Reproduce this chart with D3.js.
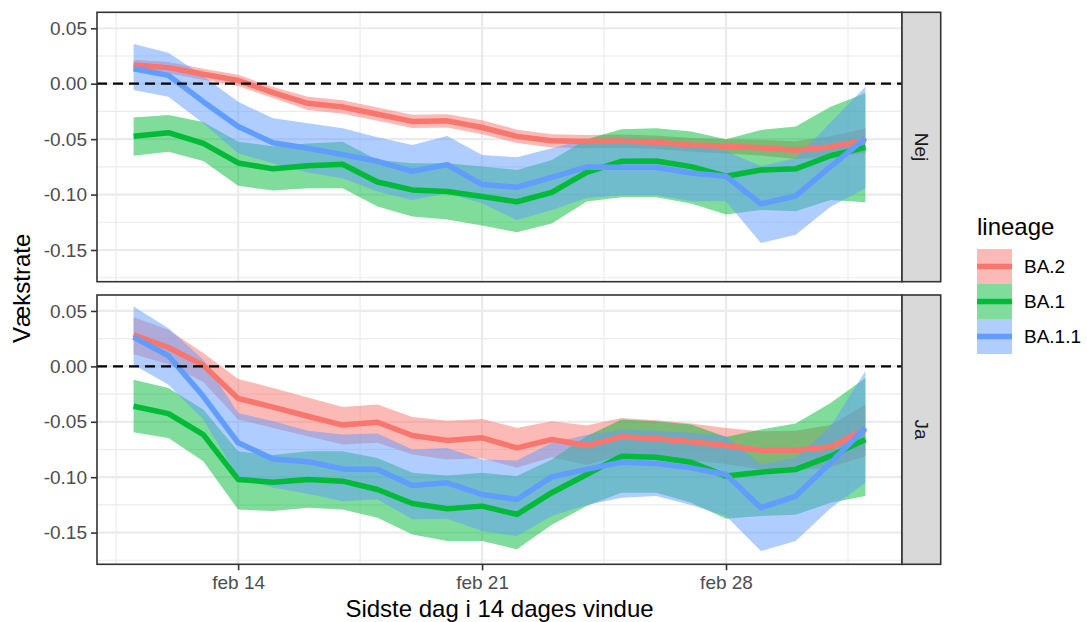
<!DOCTYPE html>
<html><head><meta charset="utf-8">
<script src="https://cdn.jsdelivr.net/npm/d3@7"></script>
<style>body{margin:0;background:#fff;} svg{display:block;font-family:"Liberation Sans",Arial,sans-serif;}</style>
</head><body><svg id="chart" width="1087" height="622"></svg>
<script>
// ---------- data ----------
const dates = ["2022-02-11","2022-02-12","2022-02-13","2022-02-14","2022-02-15","2022-02-16","2022-02-17","2022-02-18","2022-02-19","2022-02-20","2022-02-21","2022-02-22","2022-02-23","2022-02-24","2022-02-25","2022-02-26","2022-02-27","2022-02-28","2022-03-01","2022-03-02","2022-03-03","2022-03-04"];
const lineages = ["BA.2","BA.1","BA.1.1"];
const facets = ["Nej","Ja"];
const colors = ["#F8766D","#00BA38","#619CFF"];
const yTicks = [-0.15,-0.10,-0.05,0.00,0.05];
const yMinor = [-0.175,-0.125,-0.075,-0.025,0.025];
const xTickDates = ["2022-02-14","2022-02-21","2022-02-28"];
const xTickLabels = ["feb 14","feb 21","feb 28"];
const xMinorDates = ["2022-02-10T12:00","2022-02-17T12:00","2022-02-24T12:00","2022-03-03T12:00"];

// Nej panel
const nejBA2 = [0.0168,0.0145,0.0085,0.0030,-0.0080,-0.0177,-0.0210,-0.0275,-0.0340,-0.0335,-0.0395,-0.0475,-0.0515,-0.0522,-0.0518,-0.0528,-0.0552,-0.0565,-0.0578,-0.0600,-0.0570,-0.0510];
const nejBA2Hi = [0.0215,0.0195,0.0135,0.0080,-0.0030,-0.0117,-0.0150,-0.0215,-0.0280,-0.0275,-0.0330,-0.0415,-0.0455,-0.0462,-0.0458,-0.0468,-0.0490,-0.0500,-0.0508,-0.0520,-0.0475,-0.0405];
const nejBA2Lo = [0.0120,0.0095,0.0035,-0.0020,-0.0130,-0.0237,-0.0270,-0.0335,-0.0400,-0.0395,-0.0455,-0.0535,-0.0575,-0.0582,-0.0578,-0.0588,-0.0614,-0.0630,-0.0648,-0.0680,-0.0665,-0.0625];
const nejBA1 = [-0.0474,-0.0442,-0.0538,-0.0715,-0.0768,-0.0740,-0.0727,-0.0887,-0.0958,-0.0973,-0.1018,-0.1065,-0.0980,-0.0800,-0.0700,-0.0697,-0.0748,-0.0835,-0.0778,-0.0768,-0.0650,-0.0575];
const nejBA1Hi = [-0.0304,-0.0282,-0.0346,-0.0523,-0.0565,-0.0540,-0.0523,-0.0688,-0.0718,-0.0718,-0.0748,-0.0778,-0.0688,-0.0500,-0.0412,-0.0402,-0.0432,-0.0502,-0.0417,-0.0387,-0.0207,-0.0087];
const nejBA1Lo = [-0.0649,-0.0613,-0.0697,-0.0920,-0.0964,-0.0943,-0.0943,-0.1108,-0.1198,-0.1225,-0.1280,-0.1340,-0.1260,-0.1063,-0.1024,-0.1024,-0.1080,-0.1180,-0.1140,-0.1150,-0.1050,-0.1070];
const nejBA11 = [0.0135,0.0075,-0.0162,-0.0387,-0.0532,-0.0583,-0.0640,-0.0700,-0.0790,-0.0730,-0.0910,-0.0934,-0.0845,-0.0752,-0.0754,-0.0754,-0.0805,-0.0835,-0.1084,-0.1012,-0.0748,-0.0490];
const nejBA11Hi = [0.0357,0.0279,0.0070,-0.0162,-0.0312,-0.0357,-0.0402,-0.0483,-0.0553,-0.0471,-0.0643,-0.0663,-0.0583,-0.0500,-0.0490,-0.0505,-0.0540,-0.0610,-0.0742,-0.0673,-0.0350,-0.0027];
const nejBA11Lo = [-0.0057,-0.0117,-0.0357,-0.0628,-0.0718,-0.0800,-0.0853,-0.0973,-0.1048,-0.0988,-0.1078,-0.1230,-0.1140,-0.1030,-0.1003,-0.1003,-0.1060,-0.1060,-0.1438,-0.1363,-0.1110,-0.0943];

// Ja panel
const jaBA2 = [0.0285,0.0170,0.0010,-0.0290,-0.0368,-0.0450,-0.0530,-0.0504,-0.0624,-0.0668,-0.0645,-0.0735,-0.0660,-0.0714,-0.0636,-0.0654,-0.0680,-0.0714,-0.0757,-0.0757,-0.0727,-0.0570];
const jaBA2Hi = [0.0444,0.0330,0.0120,-0.0114,-0.0195,-0.0280,-0.0366,-0.0345,-0.0456,-0.0490,-0.0474,-0.0555,-0.0495,-0.0534,-0.0465,-0.0486,-0.0516,-0.0555,-0.0585,-0.0580,-0.0530,-0.0345];
const jaBA2Lo = [0.0110,0.0020,-0.0140,-0.0480,-0.0555,-0.0630,-0.0706,-0.0690,-0.0796,-0.0840,-0.0830,-0.0915,-0.0820,-0.0890,-0.0800,-0.0820,-0.0850,-0.0880,-0.0930,-0.0940,-0.0910,-0.0810];
const jaBA1 = [-0.0360,-0.0426,-0.0616,-0.1020,-0.1045,-0.1021,-0.1036,-0.1111,-0.1237,-0.1285,-0.1261,-0.1336,-0.1140,-0.0976,-0.0810,-0.0820,-0.0866,-0.0990,-0.0955,-0.0930,-0.0810,-0.0660];
const jaBA1Hi = [-0.0120,-0.0195,-0.0390,-0.0766,-0.0800,-0.0766,-0.0766,-0.0826,-0.0961,-0.0985,-0.0961,-0.0990,-0.0840,-0.0630,-0.0480,-0.0495,-0.0525,-0.0637,-0.0570,-0.0516,-0.0330,-0.0105];
const jaBA1Lo = [-0.0595,-0.0646,-0.0856,-0.1291,-0.1306,-0.1276,-0.1291,-0.1366,-0.1516,-0.1576,-0.1576,-0.1650,-0.1430,-0.1260,-0.1140,-0.1140,-0.1230,-0.1375,-0.1350,-0.1340,-0.1230,-0.1170];
const jaBA11 = [0.0264,0.0096,-0.0270,-0.0690,-0.0835,-0.0860,-0.0925,-0.0931,-0.1075,-0.1051,-0.1156,-0.1201,-0.0997,-0.0930,-0.0865,-0.0877,-0.0916,-0.0976,-0.1276,-0.1170,-0.0870,-0.0555];
const jaBA11Hi = [0.0540,0.0345,0.0060,-0.0420,-0.0495,-0.0580,-0.0615,-0.0606,-0.0751,-0.0736,-0.0841,-0.0850,-0.0690,-0.0620,-0.0570,-0.0580,-0.0600,-0.0630,-0.0886,-0.0825,-0.0540,-0.0045];
const jaBA11Lo = [0.0015,-0.0165,-0.0480,-0.1000,-0.1096,-0.1150,-0.1216,-0.1200,-0.1380,-0.1375,-0.1486,-0.1530,-0.1350,-0.1250,-0.1186,-0.1170,-0.1250,-0.1350,-0.1666,-0.1576,-0.1280,-0.1050];

// ---------- assemble ----------
const parse = d3.timeParse("%Y-%m-%d");
const parseT = d3.timeParse("%Y-%m-%dT%H:%M");
const dateObjs = dates.map(parse);
const panelData = {
  "Nej": [[nejBA2,nejBA2Lo,nejBA2Hi],[nejBA1,nejBA1Lo,nejBA1Hi],[nejBA11,nejBA11Lo,nejBA11Hi]],
  "Ja":  [[jaBA2,jaBA2Lo,jaBA2Hi],[jaBA1,jaBA1Lo,jaBA1Hi],[jaBA11,jaBA11Lo,jaBA11Hi]]
};

// ---------- layout ----------
const svg = d3.select("#chart");
const W = 1087, H = 622;
const pL = 97, pR = 902;
const panels = [{name:"Nej", top:12.3, bottom:281.7},{name:"Ja", top:295, bottom:564.3}];
const stripW = 38.7;
const tickFont = 19, titleFont = 24;

const day = 864e5;
const x = d3.scaleTime()
  .domain([new Date(dateObjs[0].getTime() - 1.05*day), new Date(dateObjs[dateObjs.length-1].getTime() + 1.05*day)])
  .range([pL, pR]);
const yDomain = [-0.1786, 0.0644];

const rgba = (hex, a) => { const c = d3.color(hex); c.opacity = a; return c.toString(); };

panels.forEach((p, pi) => {
  const y = d3.scaleLinear().domain(yDomain).range([p.bottom, p.top]);
  const g = svg.append("g");
  g.append("rect").attr("x", pL).attr("y", p.top).attr("width", pR-pL).attr("height", p.bottom-p.top).attr("fill", "#fff");
  // minor grid
  yMinor.forEach(v => g.append("line").attr("x1", pL).attr("x2", pR).attr("y1", y(v)).attr("y2", y(v)).attr("stroke", "#EBEBEB").attr("stroke-width", 1.1));
  xMinorDates.map(parseT).forEach(d => g.append("line").attr("x1", x(d)).attr("x2", x(d)).attr("y1", p.top).attr("y2", p.bottom).attr("stroke", "#EBEBEB").attr("stroke-width", 1.1));
  // major grid
  yTicks.forEach(v => g.append("line").attr("x1", pL).attr("x2", pR).attr("y1", y(v)).attr("y2", y(v)).attr("stroke", "#EBEBEB").attr("stroke-width", 2.2));
  xTickDates.map(parse).forEach(d => g.append("line").attr("x1", x(d)).attr("x2", x(d)).attr("y1", p.top).attr("y2", p.bottom).attr("stroke", "#EBEBEB").attr("stroke-width", 2.2));

  const series = panelData[p.name];
  const area = (lo, hi) => d3.area().x((d,i) => x(dateObjs[i])).y0((d,i) => y(lo[i])).y1((d,i) => y(hi[i]));
  const line = d3.line().x((d,i) => x(dateObjs[i])).y(d => y(d));
  // ribbons
  series.forEach((s, si) => {
    g.append("path").attr("d", area(s[1], s[2])(s[0])).attr("fill", rgba(colors[si], 0.5)).attr("stroke", "none");
  });
  // lines
  series.forEach((s, si) => {
    g.append("path").attr("d", line(s[0])).attr("fill", "none").attr("stroke", colors[si]).attr("stroke-width", 5.5).attr("stroke-linejoin", "round");
  });
  // dashed zero line
  g.append("line").attr("x1", pL).attr("x2", pR).attr("y1", y(0)).attr("y2", y(0)).attr("stroke", "#000").attr("stroke-width", 2.2).attr("stroke-dasharray", "10,6");
  // border
  g.append("rect").attr("x", pL).attr("y", p.top).attr("width", pR-pL).attr("height", p.bottom-p.top).attr("fill", "none").attr("stroke", "#333333").attr("stroke-width", 1.6);
  // strip
  g.append("rect").attr("x", pR).attr("y", p.top).attr("width", stripW).attr("height", p.bottom-p.top).attr("fill", "#D9D9D9").attr("stroke", "#333333").attr("stroke-width", 1.6);
  g.append("text").attr("transform", `translate(${pR + stripW/2},${(p.top+p.bottom)/2}) rotate(90)`)
    .attr("text-anchor", "middle").attr("dominant-baseline", "central").attr("font-size", tickFont).attr("fill", "#1A1A1A").text(p.name);
  // y axis
  const yAxis = d3.axisLeft(y).tickValues(yTicks).tickFormat(d3.format(".2f")).tickSize(6).tickPadding(4);
  const ya = g.append("g").attr("transform", `translate(${pL},0)`).call(yAxis);
  ya.select(".domain").remove();
  ya.selectAll(".tick line").attr("stroke", "#333333").attr("stroke-width", 1.6);
  ya.selectAll(".tick text").attr("font-size", tickFont).attr("fill", "#4D4D4D").attr("font-family", '"Liberation Sans",Arial,sans-serif')
    .text(d => d3.format(".2f")(d).replace("−", "-"));
  // x axis on bottom panel only
  if (pi === panels.length - 1) {
    const xAxis = d3.axisBottom(x).tickValues(xTickDates.map(parse)).tickFormat((d,i) => xTickLabels[i]).tickSize(6).tickPadding(5);
    const xa = g.append("g").attr("transform", `translate(0,${p.bottom})`).call(xAxis);
    xa.select(".domain").remove();
    xa.selectAll(".tick line").attr("stroke", "#333333").attr("stroke-width", 1.6);
    xa.selectAll(".tick text").attr("font-size", tickFont).attr("fill", "#4D4D4D").attr("font-family", '"Liberation Sans",Arial,sans-serif');
  }
});

// axis titles
svg.append("text").attr("x", (pL+pR)/2).attr("y", 617).attr("text-anchor", "middle").attr("font-size", titleFont).attr("fill", "#000").text("Sidste dag i 14 dages vindue");
svg.append("text").attr("transform", `translate(30,${(panels[0].top + panels[1].bottom)/2}) rotate(-90)`).attr("text-anchor", "middle").attr("font-size", titleFont).attr("fill", "#000").text("Vækstrate");

// legend
const lg = svg.append("g").attr("transform", "translate(977,0)");
lg.append("text").attr("x", 0).attr("y", 235).attr("font-size", titleFont).attr("fill", "#000").text("lineage");
const keyW = 35, keyH = 35, keyTop = 249;
lineages.forEach((name, i) => {
  const ky = keyTop + i*keyH;
  lg.append("rect").attr("x", 0).attr("y", ky).attr("width", keyW).attr("height", keyH).attr("fill", "#fff");
  lg.append("rect").attr("x", 0).attr("y", ky).attr("width", keyW).attr("height", keyH).attr("fill", rgba(colors[i], 0.5));
  lg.append("line").attr("x1", 0).attr("x2", keyW).attr("y1", ky + keyH/2).attr("y2", ky + keyH/2).attr("stroke", colors[i]).attr("stroke-width", 5.5);
  lg.append("text").attr("x", keyW + 12).attr("y", ky + keyH/2).attr("dominant-baseline", "central").attr("font-size", tickFont).attr("fill", "#000").text(name);
});
</script></body></html>
